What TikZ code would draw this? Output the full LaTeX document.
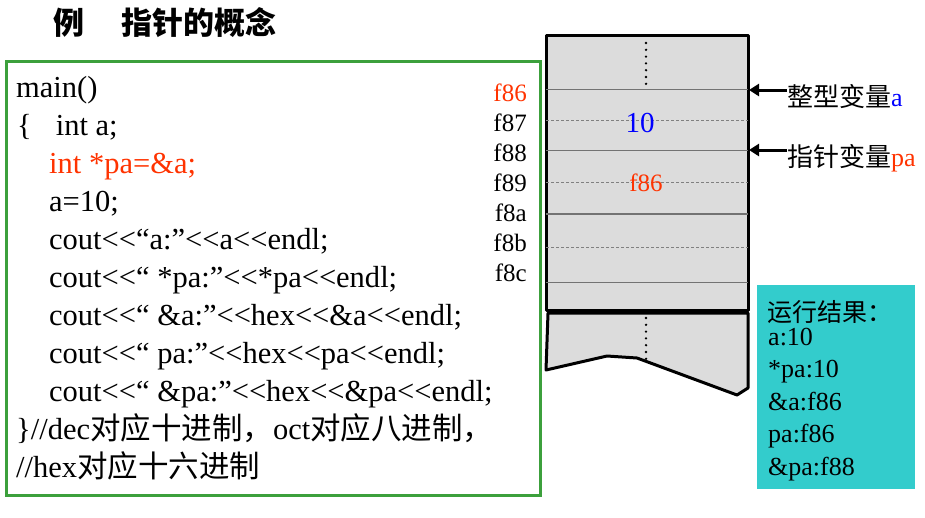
\documentclass[tikz,border=0pt]{standalone}
\usepackage{fontspec}
\newfontfamily\codefont{Liberation Serif}
\newfontfamily\cjk{Noto Sans CJK SC}
\usetikzlibrary{arrows.meta}
\definecolor{ptrred}{RGB}{255,51,0}
\definecolor{memgray}{RGB}{220,220,220}
\definecolor{rescyan}{RGB}{51,204,204}
\definecolor{boxgreen}{RGB}{60,160,60}
\begin{document}
\begin{tikzpicture}[x=1pt,y=-1pt,
  codeline/.style={anchor=base west,inner sep=0pt,font=\codefont\fontsize{30.5}{30.5}\selectfont},
  addr/.style={anchor=base east,inner sep=0pt,font=\codefont\fontsize{25}{25}\selectfont},
  reslabel/.style={anchor=base west,inner sep=0pt,font=\codefont\fontsize{26}{26}\selectfont},
  varlabel/.style={anchor=base west,inner sep=0pt,font=\cjk\fontsize{26}{26}\selectfont},
  memedge/.style={line width=3pt,line join=round},
  rowline/.style={gray!90!black,line width=1.3pt},
  halfline/.style={gray,line width=0.8pt,dash pattern=on 3pt off 2pt},
  dots/.style={line width=2.6pt,line cap=round,dash pattern=on 0pt off 6.8pt},
  pointer/.style={line width=3pt,-{Triangle[length=10pt,width=12pt]}}]
\useasboundingbox[fill=white] (0,0) rectangle (925,517);

\node[inner sep=0pt,font=\cjk\bfseries\fontsize{31}{31}\selectfont] (title1) at (69,23) {例};
\node[inner sep=0pt,anchor=west,font=\cjk\bfseries\fontsize{31}{31}\selectfont] (title2) at (121,23) {指针的概念};

\draw[boxgreen,line width=3pt] (6.5,61.5) rectangle (540,495.5);
\node[codeline] (code1) at (16,97) {main()};
\node[codeline] (code2) at (17,135) {\{\hspace{24pt}int a;};
\node[codeline,text=ptrred] (code3) at (49,173) {int *pa=\&a;};
\node[codeline] (code4) at (49,211) {a=10;};
\node[codeline] (code5) at (49,249) {cout<<“a:”<<a<<endl;};
\node[codeline] (code6) at (49,287) {cout<<“ *pa:”<<*pa<<endl;};
\node[codeline] (code7) at (49,325) {cout<<“ \&a:”<<hex<<\&a<<endl;};
\node[codeline] (code8) at (49,363) {cout<<“ pa:”<<hex<<pa<<endl;};
\node[codeline] (code9) at (49,401) {cout<<“ \&pa:”<<hex<<\&pa<<endl;};
\node[codeline] (code10) at (16,439) {\}//dec{\cjk 对应十进制，}oct{\cjk 对应八进制，}};
\node[codeline] (code11) at (16,477) {//hex{\cjk 对应十六进制}};

\foreach \a/\c [count=\i from 0] in {f86/ptrred,f87/black,f88/black,f89/black,f8a/black,f8b/black,f8c/black}
  \node[addr,text=\c] (addr-\a) at (527,101+30.1*\i) {\a};

\draw[memedge,fill=memgray] (546,35) rectangle (748,310);
\draw[rowline] (546,89.5) -- (748,89.5);
\draw[halfline] (546,120.7) -- (748,120.7);
\draw[rowline] (546,150.7) -- (748,150.7);
\draw[halfline] (546,182.7) -- (748,182.7);
\draw[rowline] (546,214) -- (748,214);
\draw[halfline] (546,247.3) -- (748,247.3);
\draw[rowline] (546,282.7) -- (748,282.7);
\draw[memedge,fill=memgray] (548,313) -- (748,313) -- (748,388) -- (737,395) -- (637,358) -- (607,356) -- (546,370) -- cycle;
\draw[dots] (646,43) -- (646,84);
\draw[dots] (646,318) -- (646,359);

\node[inner sep=0pt,anchor=base,text=blue,font=\codefont\fontsize{29}{29}\selectfont] (val) at (640,132) {10};
\node[inner sep=0pt,anchor=base,text=ptrred,font=\codefont\fontsize{25}{25}\selectfont] (ptrval) at (646,191) {f86};

\coordinate (cellA) at (749,90);
\coordinate (cellPA) at (749,150);
\node[varlabel] (lblA) at (787,106) {整型变量{\codefont\textcolor{blue}{a}}};
\node[varlabel] (lblPA) at (787,166) {指针变量{\codefont\textcolor{ptrred}{pa}}};
\draw[pointer] (lblA.west |- cellA) -- (cellA);
\draw[pointer] (lblPA.west |- cellPA) -- (cellPA);

\fill[rescyan] (757,285) rectangle (915,489);
\node[varlabel,font=\cjk\fontsize{25}{25}\selectfont] (restitle) at (767,321) {运行结果：};
\foreach \r [count=\i from 0] in {a:10,*pa:10,\&a:f86,pa:f86,\&pa:f88}
  \node[reslabel] (res-\i) at (768,345+32.5*\i) {\r};
\end{tikzpicture}
\end{document}
